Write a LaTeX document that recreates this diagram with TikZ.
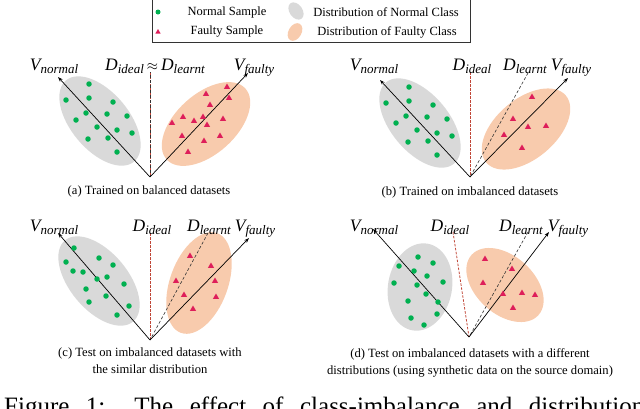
\documentclass[tikz,border=0pt]{standalone}
\usepackage{fontspec}
\setmainfont{Liberation Serif}
\usetikzlibrary{shapes.geometric,arrows.meta}
\definecolor{gfill}{RGB}{217,217,217}
\definecolor{ofill}{RGB}{248,203,173}
\definecolor{ngreen}{RGB}{0,176,80}
\definecolor{fred}{RGB}{222,30,90}
\definecolor{dred}{RGB}{192,70,55}
\newcommand{\vlab}[2]{{\fontsize{17.5}{17}\selectfont\itshape #1}{\fontsize{13}{12}\selectfont\itshape\raisebox{-3.5pt}{#2}}}
\tikzset{
  ndot/.style={circle, fill=ngreen, inner sep=0, minimum size=5.5pt},
  ftri/.style={regular polygon, regular polygon sides=3, fill=fred, inner sep=0, minimum size=7pt},
  gell/.style={ellipse, fill=gfill, inner sep=0},
  oell/.style={ellipse, fill=ofill, inner sep=0},
  vec/.style={line width=0.7pt, -{Stealth[length=5pt,width=3.5pt]}},
  ideal/.style={dred, line width=0.8pt, dash pattern=on 2.5pt off 1.5pt},
  learnt/.style={black!80, line width=0.6pt, dash pattern=on 3pt off 2pt},
  lab/.style={anchor=base, inner sep=0},
  subcap/.style={font=\fontsize{12.6}{17}\selectfont, align=center, inner sep=0, anchor=base},
  leg/.style={font=\fontsize{12.5}{14}\selectfont, inner sep=0}
}
\begin{document}
\begin{tikzpicture}[x=1pt,y=-1pt]
\useasboundingbox (0,0) rectangle (640,408);
\clip (0,0) rectangle (640,408);
% legend
\draw[black!80, line width=0.6pt] (152,-2) rectangle (470,42);
\node[ndot, minimum size=5pt] (lg) at (158,12) {};
\node[ftri, minimum size=6pt] (lt) at (158,32) {};
\node[leg] (lgt) at (227,12) {Normal Sample};
\node[leg] (ltt) at (227,32) {Faulty Sample};
\node[gell, minimum width=19pt, minimum height=13pt, rotate=-55] (lge) at (296,11) {};
\node[oell, minimum width=19pt, minimum height=13pt, rotate=60] (loe) at (295,32) {};
\node[leg] (lget) at (386,12) {Distribution of Normal Class};
\node[leg] (loet) at (387,32) {Distribution of Faulty Class};

% ---------- panel (a)
\node[gell, minimum width=106pt, minimum height=58pt, rotate=-50] (ga) at (100,121) {};
\node[oell, minimum width=106pt, minimum height=60pt, rotate=42] (oa) at (206,124) {};
\coordinate (Oa) at (150,177);
\coordinate (NVa) at (58,77);
\coordinate (FVa) at (248,73);
\coordinate (DIa) at (150,72);
\draw[ideal] (DIa) -- (Oa);
\draw[learnt, dash phase=2pt] (DIa) -- (Oa);
\draw[vec] (Oa) -- (NVa);
\draw[vec] (Oa) -- (FVa);
\foreach \p [count=\i] in {(89,84),(66,100),(89,98),(113,102),(86,113),(107,114),(127,116),(76,120),(97,127),(117,130),(132,133),(88,139),(108,138),(117,152)}
  \node[ndot] (ag\i) at \p {};
\foreach \p [count=\i] in {(227,87),(206,94),(229,98),(210,105),(183,117),(203,117),(194,121),(223,119),(172,123),(207,125),(182,136),(220,136),(204,141),(188,152)}
  \node[ftri] (at\i) at \p {};
\node[lab] (la1) at (54,70) {\vlab{V}{normal}};
\node[lab] (la2) at (155,70) {\vlab{D}{ideal}\hspace{3pt}{\fontsize{15}{15}\selectfont$\approx$}\hspace{3pt}\vlab{D}{learnt}};
\node[lab] (la3) at (254,70) {\vlab{V}{faulty}};
\node[subcap] (ca) at (149,194) {(a) Trained on balanced datasets};

% ---------- panel (b)
\node[gell, minimum width=106pt, minimum height=58pt, rotate=-50] (gb) at (420,123) {};
\node[oell, minimum width=104pt, minimum height=60pt, rotate=40] (ob) at (526,129) {};
\coordinate (Ob) at (470,177);
\coordinate (NVb) at (380,80);
\coordinate (FVb) at (568,78);
\coordinate (DIb) at (470,72);
\coordinate (DLb) at (528,73);
\draw[ideal] (DIb) -- (Ob);
\draw[learnt] (DLb) -- (Ob);
\draw[vec] (Ob) -- (NVb);
\draw[vec] (Ob) -- (FVb);
\foreach \p [count=\i] in {(409,87),(386,103),(409,101),(433,105),(406,116),(427,117),(447,119),(396,123),(417,130),(437,133),(452,136),(408,142),(428,141),(437,155)}
  \node[ndot] (bg\i) at \p {};
\foreach \p [count=\i] in {(532,97),(513,119),(528,127),(546,126),(504,135),(522,148)}
  \node[ftri] (bt\i) at \p {};
\node[lab] (lb1) at (374,70) {\vlab{V}{normal}};
\node[lab] (lb2) at (472,70) {\vlab{D}{ideal}};
\node[lab] (lb3) at (525,70) {\vlab{D}{learnt}};
\node[lab] (lb4) at (571,70) {\vlab{V}{faulty}};
\node[subcap] (cb) at (470,195) {(b) Trained on imbalanced datasets};

% ---------- panel (c)
\node[gell, minimum width=106pt, minimum height=58pt, rotate=-50] (gc) at (99,281) {};
\node[oell, minimum width=106pt, minimum height=58pt, rotate=70] (oc) at (199,283) {};
\coordinate (Oc) at (150,340);
\coordinate (NVc) at (58,233);
\coordinate (FVc) at (249,238);
\coordinate (DIc) at (150,233);
\coordinate (DLc) at (208,233);
\draw[ideal] (DIc) -- (Oc);
\draw[learnt] (DLc) -- (Oc);
\draw[vec] (Oc) -- (NVc);
\draw[vec] (Oc) -- (FVc);
\foreach \p [count=\i] in {(74,248),(99,258),(66,262),(113,265),(73,271),(83,272),(97,279),(107,277),(124,284),(86,289),(106,296),(89,302),(129,306),(117,315)}
  \node[ndot] (cg\i) at \p {};
\foreach \p [count=\i] in {(190,256),(211,266),(176,281),(215,281),(184,295),(216,297),(193,309)}
  \node[ftri] (ct\i) at \p {};
\node[lab] (lc1) at (54,231) {\vlab{V}{normal}};
\node[lab] (lc2) at (152,231) {\vlab{D}{ideal}};
\node[lab] (lc3) at (209,231) {\vlab{D}{learnt}};
\node[lab] (lc4) at (255,231) {\vlab{V}{faulty}};
\node[subcap] (cc) at (150,373) {(c) Test on imbalanced datasets with\\the similar distribution};

% ---------- panel (d)
\node[gell, minimum width=88pt, minimum height=64pt, rotate=80] (gd) at (420,287) {};
\node[oell, minimum width=90pt, minimum height=58pt, rotate=-42] (od) at (505,285) {};
\coordinate (Od) at (469,337);
\coordinate (NVd) at (373,229);
\coordinate (FVd) at (549,232);
\coordinate (DId) at (453,232);
\coordinate (DLd) at (528,232);
\draw[ideal] (DId) -- (Od);
\draw[learnt] (DLd) -- (Od);
\draw[vec] (Od) -- (NVd);
\draw[vec] (Od) -- (FVd);
\foreach \p [count=\i] in {(418,257),(433,263),(399,266),(414,271),(427,276),(394,283),(417,285),(443,282),(426,294),(408,301),(438,302),(437,314),(411,318),(424,325)}
  \node[ndot] (dg\i) at \p {};
\foreach \p [count=\i] in {(485,259),(512,269),(483,283),(503,294),(522,293),(535,295),(513,308)}
  \node[ftri] (dt\i) at \p {};
\node[lab] (ld1) at (374,231) {\vlab{V}{normal}};
\node[lab] (ld2) at (450,231) {\vlab{D}{ideal}};
\node[lab] (ld3) at (521,231) {\vlab{D}{learnt}};
\node[lab] (ld4) at (568,231) {\vlab{V}{faulty}};
\node[subcap] (cd) at (470,374) {(d) Test on imbalanced datasets with a different\\distributions (using synthetic data on the source domain)};

% ---------- figure caption (cut off, as in the reference)
\node[anchor=base west, inner sep=0] (figcap) at (4,414) {\fontsize{25}{25}\selectfont\makebox[640pt][s]{Figure 1: The effect of class-imbalance and distribution}};
\end{tikzpicture}
\end{document}
